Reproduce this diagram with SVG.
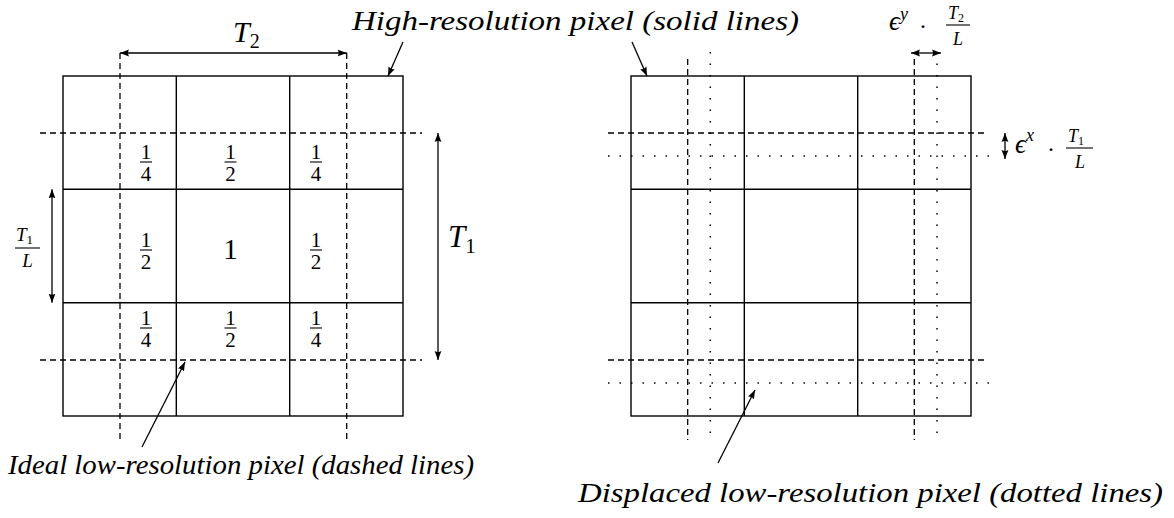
<svg xmlns="http://www.w3.org/2000/svg" width="1174" height="518" viewBox="0 0 1174 518">
<defs>
<marker id="ah" markerUnits="userSpaceOnUse" markerWidth="10" markerHeight="8" refX="9" refY="4" orient="auto-start-reverse">
<path d="M0,0.6 L9,4 L0,7.4 Q2,4 0,0.6 z" fill="#000"/>
</marker>
<style>
.solid{stroke:#000;stroke-width:1.4;fill:none}
.dash{stroke:#000;stroke-width:1.3;stroke-dasharray:6 4;fill:none}
.dot{stroke:#000;stroke-width:1.5;stroke-dasharray:1.5 10;fill:none}
.arr{stroke:#000;stroke-width:1.3;fill:none;marker-end:url(#ah)}
.arr2{stroke:#000;stroke-width:1.3;fill:none;marker-start:url(#ah);marker-end:url(#ah)}
.lbl{font-family:"Liberation Serif","DejaVu Serif",serif;font-style:italic;font-size:27px;fill:#000}
.m{font-family:"Liberation Serif","DejaVu Serif",serif;font-style:italic;fill:#000}
.n{font-family:"Liberation Serif","DejaVu Serif",serif;fill:#000;text-anchor:middle}
.bar{stroke:#000;stroke-width:1.1}
</style>
</defs>
<rect width="1174" height="518" fill="#fff"/>

<g id="left-grid">
<rect class="solid" x="63" y="76" width="340" height="340"/>
<line class="solid" x1="176.3" y1="76" x2="176.3" y2="416"/>
<line class="solid" x1="289.7" y1="76" x2="289.7" y2="416"/>
<line class="solid" x1="63" y1="189.3" x2="403" y2="189.3"/>
<line class="solid" x1="63" y1="302.7" x2="403" y2="302.7"/>
<line class="dash" x1="120" y1="53" x2="120" y2="440"/>
<line class="dash" x1="346.7" y1="53" x2="346.7" y2="440"/>
<line class="dash" x1="40" y1="133" x2="422" y2="133"/>
<line class="dash" x1="40" y1="360" x2="422" y2="360"/>
</g>

<g id="weights">
<g id="w11"><text class="n" x="146" y="159" font-size="21">1</text><line class="bar" x1="140" y1="162" x2="152" y2="162"/><text class="n" x="146" y="181" font-size="21">4</text></g>
<g id="w12"><text class="n" x="230.5" y="159" font-size="21">1</text><line class="bar" x1="224.5" y1="162" x2="236.5" y2="162"/><text class="n" x="230.5" y="181" font-size="21">2</text></g>
<g id="w13"><text class="n" x="316" y="159" font-size="21">1</text><line class="bar" x1="310" y1="162" x2="322" y2="162"/><text class="n" x="316" y="181" font-size="21">4</text></g>
<g id="w21"><text class="n" x="146" y="247" font-size="21">1</text><line class="bar" x1="140" y1="250" x2="152" y2="250"/><text class="n" x="146" y="269" font-size="21">2</text></g>
<g id="w22"><text class="n" x="230.5" y="259" font-size="29">1</text></g>
<g id="w23"><text class="n" x="316" y="247" font-size="21">1</text><line class="bar" x1="310" y1="250" x2="322" y2="250"/><text class="n" x="316" y="269" font-size="21">2</text></g>
<g id="w31"><text class="n" x="146" y="325" font-size="21">1</text><line class="bar" x1="140" y1="328" x2="152" y2="328"/><text class="n" x="146" y="347" font-size="21">4</text></g>
<g id="w32"><text class="n" x="230.5" y="325" font-size="21">1</text><line class="bar" x1="224.5" y1="328" x2="236.5" y2="328"/><text class="n" x="230.5" y="347" font-size="21">2</text></g>
<g id="w33"><text class="n" x="316" y="325" font-size="21">1</text><line class="bar" x1="310" y1="328" x2="322" y2="328"/><text class="n" x="316" y="347" font-size="21">4</text></g>
</g>

<g id="right-grid">
<rect class="solid" x="631" y="76" width="340" height="340"/>
<line class="solid" x1="744.3" y1="76" x2="744.3" y2="416"/>
<line class="solid" x1="857.7" y1="76" x2="857.7" y2="416"/>
<line class="solid" x1="631" y1="189.3" x2="971" y2="189.3"/>
<line class="solid" x1="631" y1="302.7" x2="971" y2="302.7"/>
<line class="dash" x1="687.7" y1="59" x2="687.7" y2="440"/>
<line class="dash" x1="914.3" y1="59" x2="914.3" y2="440"/>
<line class="dash" x1="608" y1="133" x2="988" y2="133"/>
<line class="dash" x1="608" y1="360" x2="988" y2="360"/>
<line class="dot" x1="710.3" y1="52" x2="710.3" y2="442"/>
<line class="dot" x1="937" y1="52" x2="937" y2="442"/>
<line class="dot" x1="608" y1="156" x2="998" y2="156"/>
<line class="dot" x1="608" y1="383" x2="998" y2="383"/>
</g>

<g id="connectors">
<line class="arr2" x1="120" y1="53" x2="346.7" y2="53"/>
<line class="arr2" x1="438" y1="133" x2="438" y2="360"/>
<line class="arr2" x1="52" y1="189.3" x2="52" y2="302.7"/>
<line class="arr2" x1="911" y1="53" x2="941" y2="53"/>
<line class="arr2" x1="1005" y1="133" x2="1005" y2="159"/>
<line class="arr" x1="403" y1="42" x2="388" y2="76"/>
<line class="arr" x1="632" y1="42" x2="647" y2="76"/>
<line class="arr" x1="142" y1="447" x2="185" y2="362"/>
<line class="arr" x1="718" y1="463" x2="755" y2="390"/>
</g>

<g id="label-T2"><text class="m" x="233" y="42" font-size="30">T<tspan font-style="normal" font-size="20" dy="6">2</tspan></text></g>
<g id="label-T1"><text class="m" x="448" y="247" font-size="31">T<tspan font-style="normal" font-size="21" dy="6">1</tspan></text></g>
<g id="label-T1L">
<text class="m" x="16" y="241" font-size="19">T<tspan font-style="normal" font-size="13" dy="3">1</tspan></text>
<line class="bar" x1="15" y1="248" x2="40" y2="248"/>
<text class="m" x="27.5" y="267" font-size="19" text-anchor="middle">L</text>
</g>
<g id="label-eps-y">
<text class="m" x="889" y="30" font-size="27">ϵ<tspan font-size="18" dy="-10">y</tspan></text>
<text class="n" x="923" y="34" font-size="24">·</text>
<text class="m" x="948" y="19" font-size="18">T<tspan font-style="normal" font-size="12" dy="3">2</tspan></text>
<line class="bar" x1="946" y1="25" x2="970" y2="25"/>
<text class="m" x="958" y="45" font-size="18" text-anchor="middle">L</text>
</g>
<g id="label-eps-x">
<text class="m" x="1015" y="153" font-size="27">ϵ<tspan font-size="18" dy="-12">x</tspan></text>
<text class="n" x="1051" y="157" font-size="24">·</text>
<text class="m" x="1068" y="142" font-size="18">T<tspan font-style="normal" font-size="12" dy="3">1</tspan></text>
<line class="bar" x1="1066" y1="148" x2="1093" y2="148"/>
<text class="m" x="1080" y="168" font-size="18" text-anchor="middle">L</text>
</g>

<g id="label-high"><text class="lbl" x="352" y="30" textLength="447" lengthAdjust="spacingAndGlyphs">High-resolution pixel (solid lines)</text></g>
<g id="label-ideal"><text class="lbl" x="8" y="474" textLength="466" lengthAdjust="spacingAndGlyphs">Ideal low-resolution pixel (dashed lines)</text></g>
<g id="label-displaced"><text class="lbl" x="578" y="502" textLength="585" lengthAdjust="spacingAndGlyphs">Displaced low-resolution pixel (dotted lines)</text></g>
</svg>
